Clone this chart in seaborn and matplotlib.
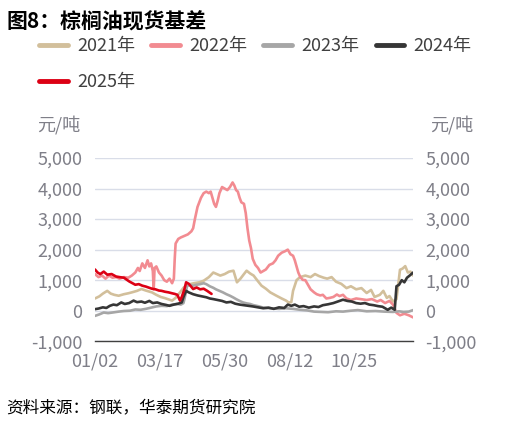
import seaborn as sns
import pandas as pd
import numpy as np
import matplotlib.pyplot as plt
from matplotlib.lines import Line2D

# x = days after 01/02, y = basis (yuan/ton)
day_2021 = [0, 5, 9, 14, 18, 22, 27, 33, 38, 42, 48, 53, 58, 65, 70, 75, 80, 85, 88, 92, 97, 101, 105,
            108, 113, 119, 124, 130, 135, 139, 143, 148, 153, 158, 162, 166, 170, 173, 177, 181, 185, 190,
            195, 200, 207, 213, 218, 221, 224, 226, 230, 234, 240, 246, 251, 256, 261, 265, 270, 275, 281,
            287, 292, 298, 304, 310, 315, 319, 325, 329, 333, 336, 340, 344, 346, 348, 351, 354, 357, 360,
            363]
val_2021 = [400, 470, 560, 650, 560, 520, 490, 540, 570, 600, 650, 710, 660, 600, 520, 450, 410, 360, 330,
            420, 600, 750, 850, 870, 900, 930, 980, 1100, 1250, 1200, 1150, 1200, 1280, 1310, 930, 1050,
            1200, 1310, 1220, 1150, 1000, 820, 720, 600, 490, 400, 330, 270, 280, 650, 1000, 1100, 1150,
            1100, 1200, 1130, 1080, 1050, 1100, 950, 880, 740, 800, 700, 740, 580, 680, 450, 520, 650, 420,
            480, 300, 380, 850, 1340, 1380, 1460, 1250, 1280, 1150]

day_2022 = [0, 4, 8, 12, 16, 20, 24, 28, 33, 38, 42, 46, 49, 51, 54, 57, 60, 62, 64, 66, 67, 68, 70, 73,
            76, 79, 82, 85, 88, 90, 91, 92, 95, 98, 102, 106, 110, 112, 114, 117, 121, 124, 127, 130, 132,
            134, 136, 138, 140, 142, 145, 148, 151, 154, 157, 159, 161, 163, 165, 167, 170, 172, 174, 176,
            178, 180, 183, 186, 189, 192, 195, 199, 203, 206, 209, 213, 217, 220, 223, 226, 228, 230, 232,
            234, 237, 240, 243, 246, 250, 253, 257, 260, 264, 268, 272, 276, 279, 283, 287, 292, 298, 303,
            310, 316, 322, 326, 331, 336, 340, 344, 348, 353, 358, 363]
val_2022 = [1200, 1100, 1150, 1050, 1150, 1080, 1100, 1050, 1100, 1080, 1150, 1250, 1400, 1300, 1550, 1400,
            1650, 1450, 1550, 1300, 700, 1400, 1450, 1250, 1150, 1000, 950, 1050, 900, 1050, 1700, 2200,
            2350, 2400, 2450, 2500, 2600, 2700, 3000, 3400, 3700, 3850, 3900, 3850, 3900, 3700, 3500, 3400,
            3600, 3850, 4050, 4000, 3950, 4050, 4200, 4100, 3950, 3900, 3700, 3550, 3500, 3200, 2700, 2300,
            2050, 1700, 1500, 1400, 1250, 1300, 1350, 1500, 1550, 1650, 1800, 1900, 1950, 2000, 1850, 1800,
            1650, 1450, 1250, 1120, 1010, 1000, 850, 700, 600, 540, 500, 520, 400, 420, 450, 530, 480, 520,
            400, 350, 400, 380, 350, 380, 300, 350, 250, 320, 200, -70, -150, -100, -150, -220]

day_2023 = [0, 5, 10, 15, 20, 27, 33, 40, 46, 52, 58, 64, 70, 76, 82, 88, 94, 98, 101, 103, 105, 108, 112,
            116, 120, 124, 127, 131, 135, 138, 142, 146, 150, 154, 158, 161, 165, 169, 173, 177, 181, 186,
            192, 200, 210, 218, 226, 234, 242, 250, 258, 266, 275, 283, 292, 300, 310, 320, 330, 340, 347,
            352, 358, 363]
val_2023 = [-170, -120, -60, -80, -60, -30, -10, 0, 40, 30, 60, 100, 140, 160, 150, 200, 220, 200, 250, 500,
            800, 850, 820, 850, 870, 900, 870, 800, 750, 700, 650, 600, 540, 490, 430, 380, 320, 270, 240,
            220, 180, 150, 100, 80, 60, 80, 60, 30, 10, -30, -40, -50, -20, -30, 0, 20, -20, -10, -30, -40,
            -20, -40, -30, 20]

day_2024 = [0, 4, 9, 13, 17, 21, 25, 30, 34, 39, 44, 48, 53, 57, 62, 66, 71, 76, 81, 85, 90, 95, 99, 101,
            104, 107, 112, 117, 122, 127, 131, 135, 140, 145, 150, 155, 160, 165, 170, 175, 180, 186, 192,
            198, 204, 210, 216, 220, 224, 228, 233, 238, 244, 250, 255, 260, 266, 272, 277, 283, 288, 293,
            298, 303, 308, 313, 318, 323, 328, 334, 338, 342, 344, 347, 350, 353, 356, 359, 361, 363]
val_2024 = [50, 70, 110, 90, 160, 200, 180, 270, 220, 250, 330, 280, 300, 260, 320, 250, 270, 220, 190, 160,
            200, 230, 270, 450, 650, 600, 540, 500, 470, 440, 400, 380, 350, 320, 270, 290, 230, 200, 180,
            160, 140, 110, 80, 100, 60, 110, 90, 200, 160, 200, 130, 150, 100, 140, 120, 180, 210, 250, 300,
            360, 320, 300, 250, 230, 250, 200, 180, 150, 130, 30, 100, 30, 800, 850, 1000, 930, 1080, 1150,
            1200, 1250]

day_2025 = [0, 3, 6, 10, 14, 19, 24, 28, 33, 39, 46, 50, 54, 58, 61, 65, 69, 73, 76, 80, 84, 88, 91, 94,
            97, 99, 102, 104, 107, 110, 112, 116, 120, 124, 128, 133]
val_2025 = [1350, 1250, 1200, 1280, 1180, 1200, 1120, 1100, 1080, 960, 850, 870, 820, 790, 760, 720, 700,
            660, 650, 620, 600, 570, 550, 520, 330, 450, 700, 930, 880, 780, 710, 760, 700, 720, 650, 550]

years = ['2021年', '2022年', '2023年', '2024年', '2025年']
colors = ['#d2bf9b', '#f28b91', '#a6a6a6', '#363636', '#dc0014']
x_ticks = [0, 74, 148, 222, 296, 363]
x_labels = ['01/02', '03/17', '05/30', '08/12', '10/25', '']
y_ticks = [-1000, 0, 1000, 2000, 3000, 4000, 5000]

frames = []
for name, d, v in zip(years,
                      [day_2021, day_2022, day_2023, day_2024, day_2025],
                      [val_2021, val_2022, val_2023, val_2024, val_2025]):
    frames.append(pd.DataFrame({'day': d, 'basis': v, 'year': name}))
df = pd.concat(frames, ignore_index=True)

sns.set_style('white')
plt.rcParams['font.family'] = ['Noto Sans CJK SC', 'DejaVu Sans']

fig = plt.figure(figsize=(5.19, 4.26), dpi=100)
ax = fig.add_axes([0.183, 0.199, 0.613, 0.43])

sns.lineplot(data=df, x='day', y='basis', hue='year', hue_order=years,
             palette=dict(zip(years, colors)), linewidth=1.9, legend=False,
             estimator=None, sort=False, ax=ax)

ax.set_xlim(0, 363)
ax.set_ylim(-1000, 5000)
ax.set_xticks(x_ticks)
ax.set_xticklabels(x_labels)
ax.set_yticks(y_ticks)
ax.set_yticklabels([f'{v:,}' for v in y_ticks])
ax.set_xlabel('')
ax.set_ylabel('')

for s in ['left', 'right', 'top']:
    ax.spines[s].set_visible(False)
ax.spines['bottom'].set_color('#404040')
ax.spines['bottom'].set_linewidth(1.0)

ax.yaxis.grid(True, color='#d9dde8', linewidth=1.0)
ax.set_axisbelow(True)
ax.tick_params(axis='y', length=0, pad=9, labelsize=13, labelcolor='#7f7f88',
               labelleft=True, labelright=True)
ax.tick_params(axis='x', direction='in', length=5, width=1, color='#404040', pad=8,
               labelsize=13, labelcolor='#7f7f88')

fig.text(0.012, 1 - 22 / 426, '图8：棕榈油现货基差', fontsize=15, fontweight='bold',
         color='#000000', va='center', ha='left')
fig.text(37 / 519, 1 - 125 / 426, '元/吨', fontsize=13, color='#7f7f88', va='center', ha='left')
fig.text(430 / 519, 1 - 125 / 426, '元/吨', fontsize=13, color='#7f7f88', va='center', ha='left')
fig.text(0.012, 1 - 408 / 426, '资料来源：钢联，华泰期货研究院', fontsize=12, style='italic',
         color='#000000', va='center', ha='left')

# legend fills column by column, so order it to read row by row
order = [0, 4, 1, 2, 3]
handles = [Line2D([0], [0], color=colors[i], linewidth=3.5) for i in order]
fig.legend(handles, [years[i] for i in order], loc='upper left',
           bbox_to_anchor=(39 / 519, 1 - 37 / 426),
           ncol=4, frameon=False, fontsize=13, labelcolor='#404040',
           handlelength=1.6, handletextpad=0.5, columnspacing=0.9,
           borderpad=0, borderaxespad=0, labelspacing=1.0)

fig.savefig('out.png', dpi=100)
